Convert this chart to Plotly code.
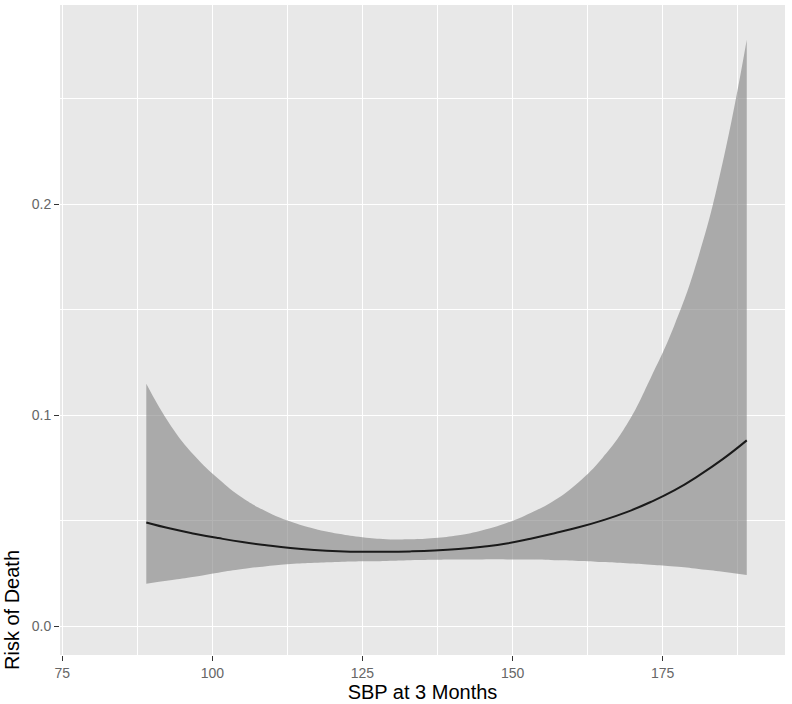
import plotly.graph_objects as go

# SBP at 3 months (x) and estimated risk of death with confidence band
sbp = [89, 93, 97, 101, 105, 109, 113, 117, 121, 125, 129, 133, 137,
       141, 145, 149, 153, 157, 161, 165, 169, 173, 177, 181, 185, 189]
risk_fit = [0.0493, 0.0464, 0.0440, 0.0419, 0.0400, 0.0385, 0.0372, 0.0363,
            0.0357, 0.0354, 0.0354, 0.0356, 0.0360, 0.0367, 0.0378, 0.0393,
            0.0416, 0.0442, 0.0470, 0.0503, 0.0542, 0.0590, 0.0646, 0.0715,
            0.0793, 0.0882]
risk_upper = [0.1150, 0.0955, 0.0810, 0.0700, 0.0610, 0.0545, 0.0497, 0.0463,
              0.0439, 0.0423, 0.0414, 0.0413, 0.0419, 0.0432, 0.0456, 0.0490,
              0.0538, 0.0598, 0.0684, 0.0800, 0.0956, 0.1178, 0.1431, 0.1757,
              0.2200, 0.2780]
risk_lower = [0.0203, 0.0219, 0.0236, 0.0255, 0.0272, 0.0286, 0.0296, 0.0302,
              0.0306, 0.0309, 0.0311, 0.0314, 0.0316, 0.0317, 0.0318, 0.0318,
              0.0317, 0.0314, 0.0311, 0.0306, 0.0300, 0.0293, 0.0284, 0.0273,
              0.0260, 0.0244]

x_ticks = [75, 100, 125, 150, 175]
y_ticks = [0.0, 0.1, 0.2]
y_ticklabels = ["0.0", "0.1", "0.2"]

FONT = "Liberation Sans, Arial, Helvetica, sans-serif"

fig = go.Figure()
fig.add_trace(go.Scatter(x=sbp, y=risk_lower, mode="lines",
                         line=dict(width=0, shape="spline", smoothing=1.3),
                         showlegend=False, hoverinfo="skip"))
fig.add_trace(go.Scatter(x=sbp, y=risk_upper, mode="lines",
                         line=dict(width=0, shape="spline", smoothing=1.3),
                         fill="tonexty", fillcolor="rgba(128,128,128,0.6)",
                         showlegend=False, hoverinfo="skip"))
fig.add_trace(go.Scatter(x=sbp, y=risk_fit, mode="lines",
                         line=dict(color="#1a1a1a", width=2, shape="spline",
                                   smoothing=1.3),
                         showlegend=False))

fig.update_layout(
    width=792, height=704,
    margin=dict(l=60, r=7, t=5, b=49),
    paper_bgcolor="white",
    plot_bgcolor="#E8E8E8",
    font=dict(family=FONT),
    xaxis=dict(
        range=[74.63, 195.37],
        tickvals=x_ticks,
        ticktext=[str(v) for v in x_ticks],
        showgrid=True, gridcolor="white", gridwidth=1.3,
        minor=dict(dtick=12.5, tick0=75, showgrid=True,
                   gridcolor="white", gridwidth=0.6, ticks=""),
        zeroline=False,
        ticks="outside", ticklen=5, tickwidth=1.2, tickcolor="#333333",
        tickfont=dict(size=14, color="#666666", family=FONT),
        title=dict(text="SBP at 3 Months",
                   font=dict(size=20, color="black", family=FONT),
                   standoff=4),
        showline=False,
    ),
    yaxis=dict(
        range=[-0.0135, 0.2945],
        tickvals=y_ticks,
        ticktext=y_ticklabels,
        showgrid=True, gridcolor="white", gridwidth=1.3,
        minor=dict(dtick=0.05, tick0=0, showgrid=True,
                   gridcolor="white", gridwidth=0.6, ticks=""),
        zeroline=False,
        ticks="outside", ticklen=5, tickwidth=1.2, tickcolor="#333333",
        tickfont=dict(size=14, color="#666666", family=FONT),
        showline=False,
    ),
    annotations=[dict(
        text="Risk of Death", textangle=-90,
        xref="paper", yref="paper",
        x=(12 - 60) / 725, y=(655 - 610) / 650,
        xanchor="center", yanchor="middle", showarrow=False,
        font=dict(size=20, color="black", family=FONT),
    )],
)

fig.write_html("out.html",
               config={"displayModeBar": False},
               post_script="document.body.style.margin='0';"
                           "document.body.style.overflow='hidden';")
